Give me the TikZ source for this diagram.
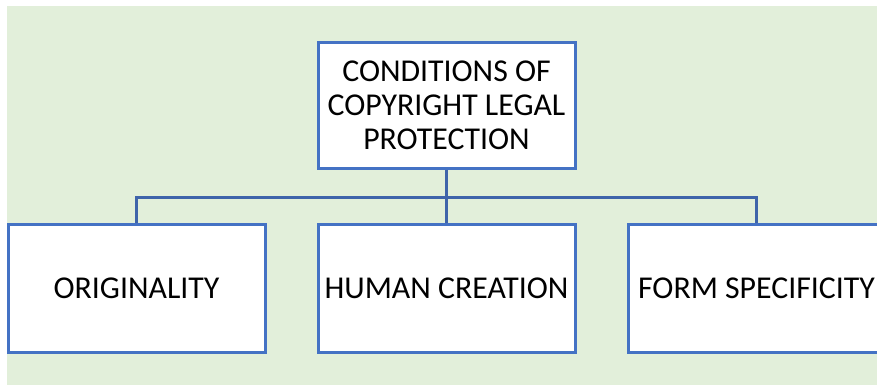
\documentclass[tikz,border=0pt]{standalone}
\usepackage{fontspec}
\setmainfont{Carlito}
\definecolor{panelgreen}{HTML}{E2EFDA}
\definecolor{boxblue}{HTML}{4472C4}
\definecolor{linkblue}{HTML}{3F64AA}
\begin{document}
\begin{tikzpicture}[x=1pt,y=-1pt,
  box/.style={draw=boxblue, line width=3pt, fill=white, minimum width=257pt,
    inner sep=0pt, align=center, font=\fontsize{31.8}{34}\selectfont},
  link/.style={draw=linkblue, line width=3pt, line join=miter}]
  % canvas and clipping
  \useasboundingbox (0,0) rectangle (877,385);
  \clip (0,0) rectangle (877,385);
  \fill[panelgreen] (7,6) rectangle (877,385);

  % boxes
  \node[box, minimum height=125pt] (root) at (446.5,105.5)
    {CONDITIONS OF\\COPYRIGHT LEGAL\\PROTECTION};
  \node[box, minimum height=128pt] (orig) at (136.5,288) {ORIGINALITY};
  \node[box, minimum height=128pt] (human) at (446.5,288) {HUMAN CREATION};
  \node[box, minimum height=128pt] (form) at (756.5,288) {FORM SPECIFICITY};

  % connectors
  \coordinate (bus) at (446.5,197);
  \draw[link] (root.south) -- (human.north);
  \draw[link] (orig.north) -- (orig.north |- bus) -- (form.north |- bus) -- (form.north);
\end{tikzpicture}
\end{document}
